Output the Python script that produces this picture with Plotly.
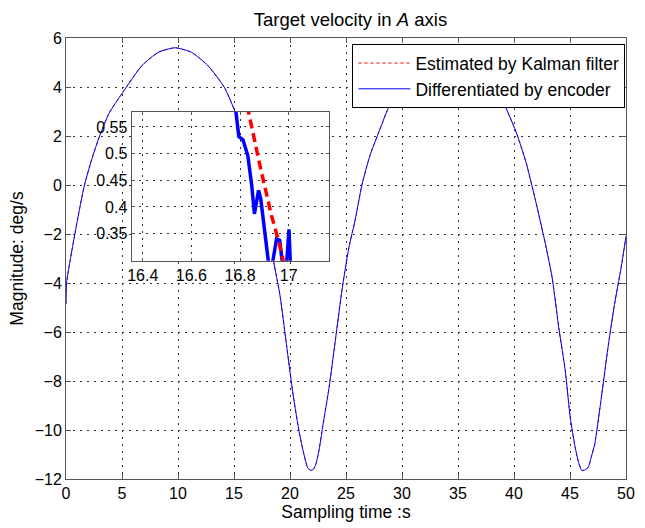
import plotly.graph_objects as go

# ---- main series ----
time_s = [0.0, 0.05, 0.4, 0.79, 1.2, 1.65, 2.3, 3.0, 3.87, 4.89, 5.62, 6.79, 8.26, 9.73,
          11.19, 12.65, 14.12, 15.0, 16.0, 16.8, 17.0, 17.8, 18.52, 19.09, 19.68, 20.27,
          20.85, 21.3, 21.59, 21.88, 22.1, 22.32, 22.6, 22.91, 23.49, 24.08, 24.67, 25.25,
          25.83, 26.42, 27.15, 27.88, 28.76, 29.35, 29.99, 31.16, 32.63, 34.1, 35.56,
          37.02, 38.49, 38.87, 40.18, 41.06, 41.94, 42.82, 43.41, 44.0, 44.58, 45.02,
          45.46, 45.75, 46.05, 46.35, 46.63, 46.9, 47.21, 47.8, 48.39, 48.97, 49.56, 50.0]
encoder_vel = [-4.85, -4.0, -3.0, -2.0, -1.0, 0.0, 1.05, 2.0, 2.95, 3.66, 4.15, 4.88, 5.42, 5.6,
               5.42, 4.88, 4.0, 3.1, 1.75, 0.55, 0.3, -1.4, -3.1, -4.46, -6.5, -8.54,
               -10.16, -11.1, -11.55, -11.65, -11.6, -11.38, -10.8, -9.89, -8.26, -6.23, -4.2, -2.57,
               -1.4, 0.0, 1.22, 2.1, 3.12, 3.59, 4.15, 4.88, 5.42, 5.6, 5.42,
               4.88, 4.0, 3.59, 2.17, 0.95, -0.67, -2.44, -3.79, -5.83, -7.59, -9.48,
               -10.7, -11.3, -11.65, -11.62, -11.52, -11.1, -10.57, -8.67, -6.64, -4.88, -3.39, -2.1]
kalman_vel = list(encoder_vel)

# ---- inset (zoom) series ----
inset_enc_t = [16.78, 16.795, 16.812, 16.832, 16.848, 16.859, 16.876, 16.885, 16.916, 16.93,
               16.95, 16.963, 16.975, 16.99, 17.001, 17.008]
inset_enc_v = [0.59, 0.532, 0.526, 0.496, 0.44, 0.387, 0.431, 0.415, 0.299, 0.285,
               0.34, 0.337, 0.29, 0.285, 0.358, 0.28]
inset_kal_t = [16.832, 16.835, 16.882, 16.929, 16.956, 16.977, 16.985]
inset_kal_v = [0.59, 0.578, 0.477, 0.384, 0.34, 0.299, 0.285]

x_ticks = [0, 5, 10, 15, 20, 25, 30, 35, 40, 45, 50]
y_ticks = [-12, -10, -8, -6, -4, -2, 0, 2, 4, 6]
inset_x_ticks = [16.4, 16.6, 16.8, 17.0]
inset_x_labels = ["16.4", "16.6", "16.8", "17"]
inset_y_ticks = [0.35, 0.4, 0.45, 0.5, 0.55]
inset_y_labels = ["0.35", "0.4", "0.45", "0.5", "0.55"]

FONT = "Liberation Sans, Arial, sans-serif"
AXC = "#555555"
GRIDC = "#333333"

fig = go.Figure()
fig.add_trace(go.Scatter(x=time_s, y=kalman_vel, mode="lines",
                         name="Estimated by Kalman filter",
                         line=dict(color="red", width=1, dash="dot", shape="spline", smoothing=0.6)))
fig.add_trace(go.Scatter(x=time_s, y=encoder_vel, mode="lines",
                         name="Differentiated by encoder",
                         line=dict(color="blue", width=1, shape="spline", smoothing=0.6)))
fig.add_trace(go.Scatter(x=inset_enc_t, y=inset_enc_v, mode="lines", showlegend=False,
                         xaxis="x2", yaxis="y2", line=dict(color="blue", width=3.5)))
fig.add_trace(go.Scatter(x=inset_kal_t, y=inset_kal_v, mode="lines", showlegend=False,
                         xaxis="x2", yaxis="y2", line=dict(color="red", width=3.5, dash="9px,5px")))

common = dict(showline=True, linecolor=AXC, linewidth=1, mirror="ticks", ticks="inside",
              tickcolor=AXC, showgrid=True, gridcolor=GRIDC, griddash="2px,5px", gridwidth=1,
              zeroline=False, tickfont=dict(family=FONT, size=16, color="black"))

fig.update_layout(
    width=645, height=528,
    margin=dict(l=66, r=10, t=38, b=46),
    paper_bgcolor="white", plot_bgcolor="white",
    font=dict(family=FONT, color="black"),
    title=dict(text="Target velocity in <i>A</i> axis", x=(66 + 635) / 2 / 645, xanchor="center",
               y=1 - 20 / 528, yanchor="middle", yref="container",
               font=dict(family=FONT, size=18.5, color="black")),
    xaxis=dict(range=[0, 50], tickvals=x_ticks, ticklen=5, domain=[0, 1],
               title=dict(text="Sampling time :s", font=dict(family=FONT, size=17.5), standoff=4),
               **common),
    yaxis=dict(range=[-12, 6], tickvals=y_ticks, ticklen=5, domain=[0, 1],
               title=dict(text="Magnitude: deg/s", font=dict(family=FONT, size=17.5), standoff=6),
               **common),
    xaxis2=dict(range=[16.354, 17.164], tickvals=inset_x_ticks, ticktext=inset_x_labels,
                ticklen=3, domain=[0.117, 0.469], anchor="y2", **common),
    yaxis2=dict(range=[0.299, 0.578], tickvals=inset_y_ticks, ticktext=inset_y_labels,
                ticklen=3, domain=[0.495, 0.832], anchor="x2", **common),
    legend=dict(x=0.999, y=0.986, xanchor="right", yanchor="top", bgcolor="white",
                bordercolor="black", borderwidth=1, itemwidth=52,
                font=dict(family=FONT, size=17.5, color="black"), tracegroupgap=0),
    shapes=[dict(type="rect", xref="x2 domain", yref="y2 domain", x0=0, x1=1, y0=0, y1=1,
                 fillcolor="white", line=dict(width=0), layer="below")],
    showlegend=True,
)

fig.write_html("out.html")
